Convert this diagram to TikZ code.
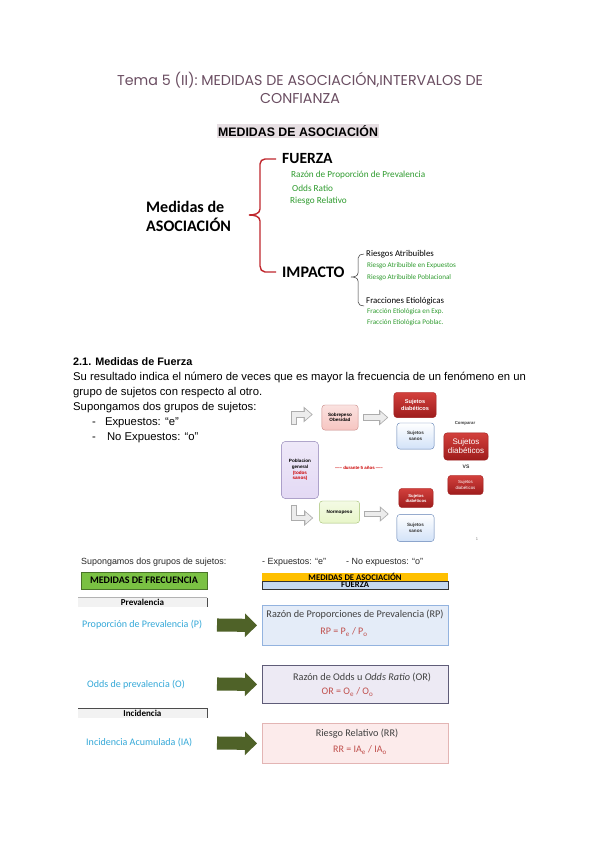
\documentclass[tikz,border=0pt]{standalone}
\usepackage{fontspec}
\setmainfont{Liberation Sans}
\newfontfamily\calibri{Carlito}
\newfontfamily\titulo{Poppins}
\usetikzlibrary{arrows.meta, positioning, calc}
\definecolor{tituloMalva}{HTML}{6B4E62}
\definecolor{resaltado}{HTML}{E6DEE2}
\definecolor{llaveRoja}{HTML}{C0272D}
\definecolor{hojaVerde}{HTML}{2E9B2E}
\definecolor{pobFondo}{HTML}{E3D9F4}
\definecolor{pobBorde}{HTML}{8D7FB3}
\definecolor{sobreFondo}{HTML}{F6C5C1}
\definecolor{sobreBorde}{HTML}{C98A86}
\definecolor{normoFondo}{HTML}{E8F6C9}
\definecolor{normoBorde}{HTML}{A3BF73}
\definecolor{diabClaro}{HTML}{D2403C}
\definecolor{diabOscuro}{HTML}{9E1C1C}
\definecolor{sanosFondo}{HTML}{D2E2F8}
\definecolor{sanosBorde}{HTML}{5E7FB4}
\definecolor{frecVerde}{HTML}{7AC143}
\definecolor{asocNaranja}{HTML}{FFC000}
\definecolor{fuerzaAzul}{HTML}{C6D9F0}
\definecolor{textoCian}{HTML}{33A8D8}
\definecolor{oliva}{HTML}{4F6228}
\definecolor{rpFondo}{HTML}{E4ECF8}
\definecolor{rpBorde}{HTML}{93B3DF}
\definecolor{orFondo}{HTML}{EDEAF4}
\definecolor{orBorde}{HTML}{5F5C78}
\definecolor{rrFondo}{HTML}{FCEBEB}
\definecolor{rrBorde}{HTML}{E3B5B4}
\definecolor{formulaRoja}{HTML}{C0504D}
\newcommand\tam[2]{\fontsize{#1}{#2}\selectfont}

\begin{document}
\begin{tikzpicture}[x=0.035cm, y=-0.035cm,
    linea/.style={anchor=west, inner sep=0pt},
    verde/.style={linea, text=hojaVerde, font=\calibri\tam{9.2pt}{10pt}},
    verdeMini/.style={linea, text=hojaVerde, font=\calibri\tam{7.1pt}{8pt}},
    cuerpo/.style={linea, font=\tam{11.25pt}{13pt}},
    caja/.style={rounded corners=3pt, align=center, inner sep=0pt,
      font=\bfseries\tam{4.6pt}{5.6pt}},
    rojo/.style={caja, draw=diabOscuro, top color=diabClaro, bottom color=diabOscuro,
      text=white},
    sanos/.style={caja, draw=sanosBorde, top color=white, bottom color=sanosFondo,
      text=black!80},
    grisflecha/.style={line width=6pt, draw=gray!65, -{Triangle[length=9pt,width=15pt]},
      postaction={draw=gray!15, line width=4pt, -{Triangle[length=6.5pt,width=11pt]},
      shorten >=1.3pt, shorten <=0.8pt}},
    flechaverde/.style={line width=13pt, draw=oliva,
      -{Triangle[length=12pt,width=23pt]}, shorten >=5pt},
    barra/.style={anchor=north west, inner sep=0pt, minimum width=185pt,
      font=\calibri\bfseries\tam{8.6pt}{8.6pt}},
    gris/.style={anchor=north west, inner sep=0pt, minimum width=128pt,
      minimum height=9.5pt, fill=gray!10, font=\calibri\bfseries\tam{9pt}{9pt}},
    medida/.style={anchor=north west, minimum width=185pt, minimum height=40pt},
    tituloCaja/.style={inner sep=0pt, text=black!75, font=\calibri\tam{10.2pt}{11pt}},
    formula/.style={inner sep=0pt, text=formulaRoja, font=\calibri\tam{10pt}{11pt}},
    izquierda/.style={linea, text=textoCian, font=\calibri\tam{10pt}{11pt}}]
  \fill[white] (0,0) rectangle (600,848);
  \useasboundingbox (0,0) rectangle (600,848);

  % titulo
  \node[text=tituloMalva, align=center, font=\titulo\tam{14.2pt}{17.5pt}] (titulo) at (300,88)
    {Tema 5 (II): MEDIDAS DE ASOCIACIÓN,INTERVALOS DE\\CONFIANZA};
  \node[fill=resaltado, inner sep=1.5pt, font=\bfseries\tam{12.3pt}{13pt}] (medidas) at (298,131)
    {MEDIDAS DE ASOCIACIÓN};

  % esquema de la llave
  \node[linea, align=left, font=\calibri\bfseries\tam{16pt}{19pt}] (asoc) at (146,216)
    {Medidas de\\ASOCIACIÓN};
  \draw[llaveRoja, line width=1.4pt] (276,159) -- (265,159) to[out=180,in=90] (260,164)
    -- (260,209) to[out=270,in=0] (249,215) to[out=0,in=90] (260,221)
    -- (260,266) to[out=270,in=180] (265,272) -- (276,272);
  \node[linea, font=\calibri\bfseries\tam{15.5pt}{16pt}] (fuerza) at (282,159) {FUERZA};
  \node[verde] (rpp) at (291,175) {Razón de Proporción de Prevalencia};
  \node[verde] (odds) at (292,188) {Odds Ratio};
  \node[verde] (rr) at (290,201) {Riesgo Relativo};
  \node[linea, font=\calibri\bfseries\tam{16pt}{16pt}] (impacto) at (282,272) {IMPACTO};
  \draw[black!80, line width=0.5pt] (364,254) to[out=180,in=90] (358,258) -- (358,273)
    to[out=270,in=0] (351,277) to[out=0,in=90] (358,281) -- (358,302)
    to[out=270,in=180] (364,306);
  \node[linea, font=\calibri\tam{8.8pt}{9pt}] (atrib) at (366,254) {Riesgos Atribuibles};
  \node[verdeMini] (rae) at (367,266) {Riesgo Atribuible en Expuestos};
  \node[verdeMini] (rap) at (367,278) {Riesgo Atribuible Poblacional};
  \node[linea, font=\calibri\tam{8.8pt}{9pt}] (fracc) at (366,301) {Fracciones Etiológicas};
  \node[verdeMini] (fee) at (367,312) {Fracción Etiológica en Exp.};
  \node[verdeMini] (fep) at (367,323) {Fracción Etiológica Poblac.};

  % texto 2.1
  \node[cuerpo, font=\bfseries\tam{10.8pt}{13pt}] (sec) at (73,362) {2.1. Medidas de Fuerza};
  \node[cuerpo] (l1) at (73,378)
    {Su resultado indica el número de veces que es mayor la frecuencia de un fenómeno en un};
  \node[cuerpo] (l2) at (73,393) {grupo de sujetos con respecto al otro.};
  \node[cuerpo] (l3) at (73,408) {Supongamos dos grupos de sujetos:};
  \node[cuerpo] (l4) at (92,423) {-\hspace{9pt}Expuestos: “e”};
  \node[cuerpo] (l5) at (92,438) {-\hspace{11pt}No Expuestos: “o”};

  % diagrama de cohortes
  \node[caja, draw=pobBorde, top color=pobFondo!60, bottom color=pobFondo,
        minimum width=37pt, minimum height=57pt, rounded corners=4pt] (pob) at (300,470)
    {Poblacion\\general\\\textcolor{red!80!black}{(todos}\\\textcolor{red!80!black}{sanos)}};
  \node[caja, draw=sobreBorde, top color=sobreFondo!50, bottom color=sobreFondo,
        minimum width=36pt, minimum height=25pt] (sobre) at (340,417.5) {Sobrepeso\\Obesidad};
  \node[caja, draw=normoBorde, top color=normoFondo!50, bottom color=normoFondo,
        minimum width=40pt, minimum height=22pt] (normo) at (339.5,512) {Normopeso};
  \node[rojo, minimum width=42pt, minimum height=25pt, font=\bfseries\tam{5.6pt}{6.8pt}]
    (diabA) at (415,405) {Sujetos\\diabéticos};
  \node[sanos, minimum width=37pt, minimum height=26pt] (sanosA) at (415.5,436) {Sujetos\\sanos};
  \node[rojo, minimum width=34pt, minimum height=19pt, font=\bfseries\tam{4.2pt}{5pt}]
    (diabB) at (416,498) {Sujetos\\diabéticos};
  \node[sanos, minimum width=37pt, minimum height=27pt] (sanosB) at (415.5,528) {Sujetos\\sanos};
  \node[rojo, minimum width=44pt, minimum height=27pt, font=\tam{8pt}{9.2pt}]
    (diabC) at (466,446.5) {Sujetos\\diabéticos};
  \node[rojo, minimum width=35pt, minimum height=19pt, font=\tam{4.4pt}{5.2pt}]
    (diabD) at (465.5,485) {Sujetos\\diabéticos};
  \node[inner sep=0pt, font=\bfseries\tam{4.3pt}{5pt}, text=black!75] (comparar) at (465,423) {Comparar};
  \node[inner sep=0pt, font=\bfseries\tam{5pt}{6pt}, text=black!80] (vs) at (466,467) {VS};
  \node[inner sep=0pt, font=\bfseries\tam{4.4pt}{5pt}, text=red!80!black] (durante) at (359,468)
    {----- durante 5 años -----};
  \node[inner sep=0pt, font=\tam{4pt}{5pt}, text=gray] (pag) at (477,539) {1};
  \draw[grisflecha] ($(pob.north)+(-6,-16)$) |- ($(sobre.west)+(-9,-3)$);
  \draw[grisflecha] ($(pob.south)+(-6,6)$) |- ($(normo.west)+(-6,6)$);
  \draw[grisflecha] ($(sobre.east)+(5,0)$) -- ($(sobre.east)+(30,0)$);
  \draw[grisflecha] ($(normo.east)+(4,2)$) -- ($(normo.east)+(29,2)$);

  % tabla inferior
  \node[linea, font=\tam{8.9pt}{10pt}, text=black!85] (sup) at (81,562) {Supongamos dos grupos de sujetos:};
  \node[linea, font=\tam{8.9pt}{10pt}, text=black!85] (expe) at (262,562) {- Expuestos: “e”};
  \node[linea, font=\tam{8.9pt}{10pt}, text=black!85] (noexpe) at (346,562) {- No expuestos: “o”};
  \node[anchor=north west, inner sep=0pt, minimum width=125pt, minimum height=17pt,
        fill=frecVerde, draw=frecVerde!60!black, font=\calibri\bfseries\tam{10pt}{10pt}]
    (frec) at (81,571.5) {MEDIDAS DE FRECUENCIA};
  \node[barra, fill=asocNaranja, minimum height=8pt] (asocBar) at (262,572.5) {MEDIDAS DE ASOCIACIÓN};
  \node[barra, fill=fuerzaAzul, draw=black!80, minimum height=8.5pt, text depth=0pt]
    (fuerzaBar) at (262,580.5) {FUERZA};
  \node[gris] (prev) at (78,597.5) {Prevalencia};
  \draw[gray!60, line width=0.4pt] (prev.north west) -- (prev.north east);
  \draw[black!70, line width=0.6pt] (prev.north east) -- (prev.south east);
  \node[gris] (inc) at (78,708) {Incidencia};
  \draw[black!70, line width=0.6pt] (inc.north west) -- (inc.north east) -- (inc.south east);

  \node[izquierda] (propP) at (82,625) {Proporción de Prevalencia (P)};
  \node[izquierda] (oddsP) at (87,685) {Odds de prevalencia (O)};
  \node[izquierda] (incA) at (86,743) {Incidencia Acumulada (IA)};

  \node[medida, fill=rpFondo, draw=rpBorde, line width=0.8pt] (rp) at (262,605) {};
  \node[tituloCaja] (rpT) at (355,615) {Razón de Proporciones de Prevalencia (RP)};
  \node[formula] (rpF) at (344,632) {RP = P\textsubscript{e} / P\textsubscript{o}};
  \node[medida, fill=orFondo, draw=orBorde, line width=0.8pt, minimum height=38pt] (or) at (262,665) {};
  \node[tituloCaja] (orT) at (362,677) {Razón de Odds u \textit{Odds Ratio} (OR)};
  \node[formula] (orF) at (347.5,692) {OR = O\textsubscript{e} / O\textsubscript{o}};
  \node[medida, fill=rrFondo, draw=rrBorde, line width=0.8pt] (rrBox) at (262,723) {};
  \node[tituloCaja] (rrT) at (357,734) {Riesgo Relativo (RR)};
  \node[formula] (rrF) at (360,750) {RR = IA\textsubscript{e} / IA\textsubscript{o}};

  \coordinate (pA) at (217,625);
  \coordinate (oA) at (217,684);
  \coordinate (iA) at (217,743);
  \draw[flechaverde] (pA) -- (rp.west);
  \draw[flechaverde] (oA) -- (or.west);
  \draw[flechaverde] (iA) -- (rrBox.west);
\end{tikzpicture}
\end{document}
